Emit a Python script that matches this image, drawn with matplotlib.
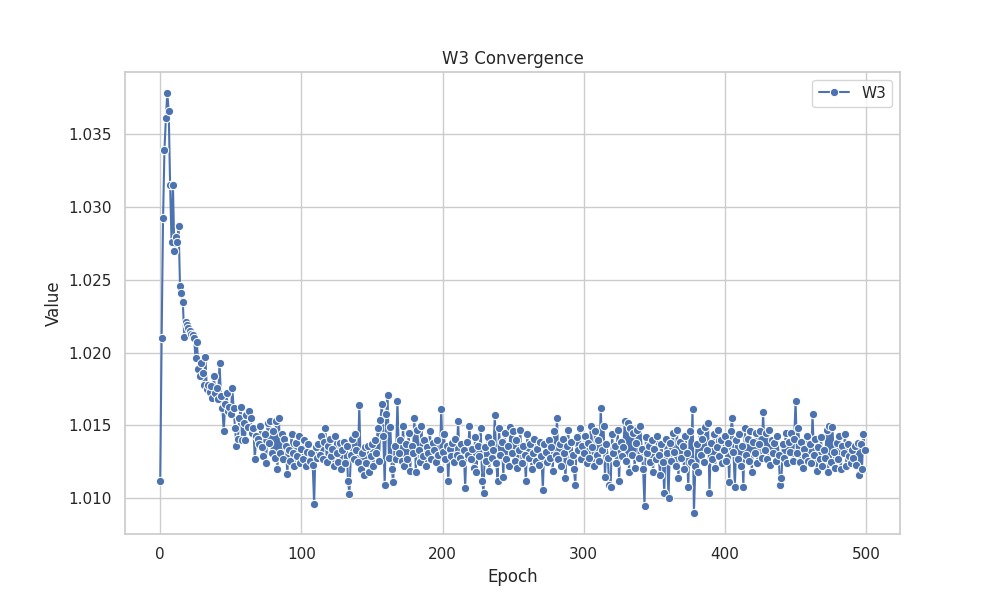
import matplotlib
matplotlib.use("Agg")
import matplotlib.pyplot as plt
import numpy as np
import seaborn as sns

sns.set_theme(style="whitegrid")

# W3 values per epoch (10 per row)
w3_values = [
    1.0112, 1.0210, 1.0292, 1.0339, 1.0361, 1.0378, 1.0366, 1.0315, 1.0276, 1.0315,
    1.0270, 1.0279, 1.0276, 1.0287, 1.0246, 1.0241, 1.0235, 1.0211, 1.0221, 1.0219,
    1.0217, 1.0215, 1.0213, 1.0212, 1.0210, 1.0196, 1.0207, 1.0189, 1.0184, 1.0193,
    1.0186, 1.0178, 1.0197, 1.0175, 1.0178, 1.0173, 1.0177, 1.0169, 1.0184, 1.0172,
    1.0176, 1.0168, 1.0193, 1.0170, 1.0162, 1.0146, 1.0165, 1.0172, 1.0160, 1.0163,
    1.0158, 1.0176, 1.0162, 1.0148, 1.0136, 1.0141, 1.0155, 1.0163, 1.0140, 1.0152,
    1.0140, 1.0157, 1.0149, 1.0160, 1.0155, 1.0145, 1.0148, 1.0127, 1.0143, 1.0141,
    1.0137, 1.0150, 1.0135, 1.0129, 1.0144, 1.0124, 1.0152, 1.0138, 1.0153, 1.0131,
    1.0146, 1.0128, 1.0153, 1.0120, 1.0155, 1.0131, 1.0144, 1.0127, 1.0141, 1.0136,
    1.0117, 1.0133, 1.0126, 1.0144, 1.0131, 1.0122, 1.0138, 1.0129, 1.0143, 1.0124,
    1.0134, 1.0127, 1.0140, 1.0122, 1.0132, 1.0137, 1.0126, 1.0131, 1.0123, 1.0096,
    1.0135, 1.0128, 1.0137, 1.0130, 1.0143, 1.0127, 1.0139, 1.0148, 1.0125, 1.0136,
    1.0141, 1.0129, 1.0134, 1.0122, 1.0143, 1.0131, 1.0125, 1.0138, 1.0120, 1.0133,
    1.0139, 1.0124, 1.0136, 1.0112, 1.0103, 1.0130, 1.0141, 1.0127, 1.0144, 1.0133,
    1.0125, 1.0164, 1.0120, 1.0131, 1.0116, 1.0135, 1.0124, 1.0136, 1.0118, 1.0129,
    1.0137, 1.0122, 1.0140, 1.0131, 1.0148, 1.0126, 1.0154, 1.0165, 1.0143, 1.0109,
    1.0158, 1.0171, 1.0128, 1.0149, 1.0120, 1.0111, 1.0136, 1.0127, 1.0167, 1.0131,
    1.0140, 1.0126, 1.0150, 1.0122, 1.0137, 1.0127, 1.0145, 1.0119, 1.0136, 1.0131,
    1.0155, 1.0118, 1.0147, 1.0133, 1.0125, 1.0150, 1.0129, 1.0140, 1.0122, 1.0135,
    1.0131, 1.0146, 1.0127, 1.0138, 1.0133, 1.0125, 1.0140, 1.0130, 1.0120, 1.0161,
    1.0132, 1.0144, 1.0127, 1.0136, 1.0112, 1.0134, 1.0129, 1.0138, 1.0125, 1.0141,
    1.0130, 1.0153, 1.0128, 1.0137, 1.0124, 1.0133, 1.0107, 1.0139, 1.0130, 1.0150,
    1.0127, 1.0134, 1.0121, 1.0142, 1.0118, 1.0136, 1.0129, 1.0148, 1.0112, 1.0104,
    1.0135, 1.0126, 1.0142, 1.0119, 1.0138, 1.0128, 1.0133, 1.0157, 1.0124, 1.0112,
    1.0148, 1.0130, 1.0139, 1.0115, 1.0145, 1.0127, 1.0136, 1.0122, 1.0149, 1.0131,
    1.0146, 1.0126, 1.0140, 1.0121, 1.0133, 1.0147, 1.0124, 1.0136, 1.0130, 1.0112,
    1.0144, 1.0128, 1.0137, 1.0120, 1.0131, 1.0141, 1.0126, 1.0134, 1.0123, 1.0139,
    1.0129, 1.0106, 1.0137, 1.0132, 1.0125, 1.0140, 1.0128, 1.0135, 1.0119, 1.0146,
    1.0130, 1.0155, 1.0127, 1.0137, 1.0122, 1.0141, 1.0131, 1.0114, 1.0136, 1.0147,
    1.0125, 1.0139, 1.0130, 1.0120, 1.0109, 1.0142, 1.0133, 1.0148, 1.0127, 1.0136,
    1.0131, 1.0143, 1.0124, 1.0138, 1.0128, 1.0150, 1.0135, 1.0122, 1.0146, 1.0130,
    1.0140, 1.0126, 1.0162, 1.0133, 1.0150, 1.0115, 1.0137, 1.0128, 1.0109, 1.0108,
    1.0144, 1.0131, 1.0136, 1.0124, 1.0147, 1.0112, 1.0139, 1.0129, 1.0135, 1.0153,
    1.0126, 1.0152, 1.0118, 1.0148, 1.0130, 1.0145, 1.0121, 1.0138, 1.0147, 1.0128,
    1.0150, 1.0134, 1.0120, 1.0095, 1.0142, 1.0131, 1.0136, 1.0125, 1.0140, 1.0118,
    1.0134, 1.0127, 1.0143, 1.0130, 1.0116, 1.0137, 1.0125, 1.0104, 1.0141, 1.0131,
    1.0100, 1.0138, 1.0126, 1.0145, 1.0132, 1.0122, 1.0147, 1.0114, 1.0139, 1.0128,
    1.0136, 1.0120, 1.0143, 1.0131, 1.0108, 1.0146, 1.0125, 1.0161, 1.0090, 1.0122,
    1.0137, 1.0118, 1.0146, 1.0130, 1.0141, 1.0125, 1.0149, 1.0133, 1.0152, 1.0104,
    1.0138, 1.0127, 1.0144, 1.0121, 1.0135, 1.0147, 1.0129, 1.0140, 1.0124, 1.0133,
    1.0143, 1.0126, 1.0138, 1.0111, 1.0146, 1.0155, 1.0132, 1.0108, 1.0140, 1.0127,
    1.0144, 1.0122, 1.0136, 1.0108, 1.0148, 1.0130, 1.0141, 1.0126, 1.0146, 1.0118,
    1.0139, 1.0131, 1.0145, 1.0124, 1.0137, 1.0146, 1.0128, 1.0159, 1.0133, 1.0145,
    1.0127, 1.0147, 1.0123, 1.0140, 1.0131, 1.0138, 1.0126, 1.0143, 1.0130, 1.0109,
    1.0114, 1.0137, 1.0128, 1.0145, 1.0124, 1.0139, 1.0132, 1.0145, 1.0126, 1.0141,
    1.0167, 1.0131, 1.0148, 1.0125, 1.0139, 1.0121, 1.0134, 1.0129, 1.0143, 1.0126,
    1.0137, 1.0124, 1.0158, 1.0130, 1.0141, 1.0119, 1.0135, 1.0127, 1.0142, 1.0122,
    1.0133, 1.0128, 1.0147, 1.0118, 1.0150, 1.0125, 1.0149, 1.0132, 1.0121, 1.0138,
    1.0127, 1.0143, 1.0120, 1.0136, 1.0131, 1.0144, 1.0122, 1.0137, 1.0129, 1.0124,
    1.0133, 1.0128, 1.0136, 1.0123, 1.0138, 1.0116, 1.0137, 1.0120, 1.0144, 1.0133,
]
epochs = np.arange(len(w3_values))

fig, ax = plt.subplots(figsize=(10, 6), dpi=100)
ax.plot(epochs, w3_values, color="#4c72b0", marker="o", markersize=6,
        markeredgecolor="white", markeredgewidth=0.75, linewidth=1.5, label="W3")

ax.set_title("W3 Convergence")
ax.set_xlabel("Epoch")
ax.set_ylabel("Value")
ax.legend(loc="upper right")

plt.savefig("out.png", dpi=100)
